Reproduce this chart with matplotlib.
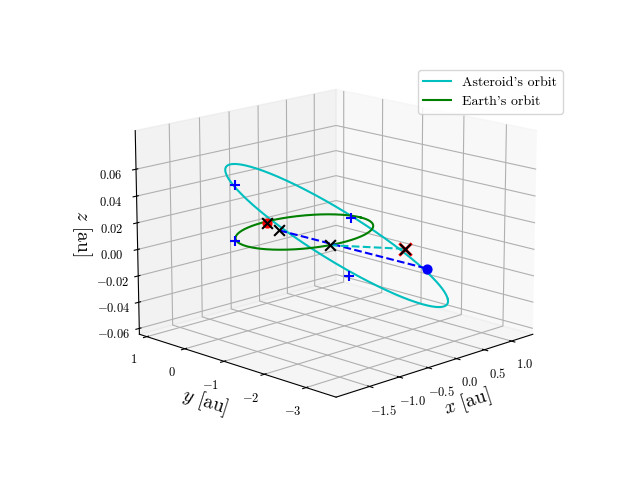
import numpy as np
import matplotlib
matplotlib.use("Agg")
import matplotlib.pyplot as plt

plt.rcParams.update({
    "font.family": "serif",
    "font.serif": ["cmr10"],
    "mathtext.fontset": "cm",
    "axes.formatter.use_mathtext": True,
})

# asteroid orbit: centre, semi-axis vectors (au)
ast_centre = [0.167, -0.61, 0.0]
ast_u = [1.20, -1.10, -0.055]
ast_v = [0.98, 1.41, 0.0]
earth_radius = 1.0

# marked positions (x, y, z) in au
plus_pts = [(-0.92, 0.44, 0.0), (0.90, 0.11, 0.0), (-0.82, 0.57, 0.04), (0.21, -0.82, -0.03)]
earth_pos = (-0.05, 0.9, 0.0)
ast_pos = (0.93, -1.76, -0.025)
cross_black = [(-0.05, 0.9, 0.0), (-0.19, 0.38, 0.0), (-0.24, -0.97, 0.0), (0.74, -1.47, -0.01)]
cross_red = (0.74, -1.47, -0.01)

th = np.linspace(0, 2 * np.pi, 400)
c, u, v = map(np.array, (ast_centre, ast_u, ast_v))
ast = c[:, None] + u[:, None] * np.cos(th) + v[:, None] * np.sin(th)

fig = plt.figure(figsize=(6.4, 4.8))
ax = fig.add_subplot(projection="3d")
ax.set_position([0.015, 0.0, 1.0, 1.0])
ax.plot(ast[0], ast[1], ast[2], color="c", label="Asteroid's orbit")
ax.plot(earth_radius * np.cos(th), earth_radius * np.sin(th), 0 * th,
        color="g", label="Earth's orbit")

ax.plot(*zip(cross_black[1], ast_pos), "b--")
ax.plot(*zip(cross_black[2], cross_red), "c--")
for p in plus_pts:
    ax.scatter(*p, color="b", marker="+", s=60)
ax.scatter(*earth_pos, color="r", s=40)
ax.scatter(*ast_pos, color="b", s=40)
ax.scatter(*cross_red, color="r", marker="x", s=80, linewidths=2)
for p in cross_black:
    ax.scatter(*p, color="k", marker="x", s=60)

ax.set_xlim(-2.05, 1.4)
ax.set_ylim(-3.7, 1.2)
ax.set_zlim(-0.0645, 0.0885)
ax.set_xticks([-1.5, -1.0, -0.5, 0.0, 0.5, 1.0])
ax.set_yticks([-3, -2, -1, 0, 1])
ax.set_zticks([-0.06, -0.04, -0.02, 0.0, 0.02, 0.04, 0.06])
ax.set_xlabel("$x$ [au]", fontsize=14)
ax.set_ylabel("$y$ [au]", fontsize=14)
ax.zaxis.set_rotate_label(False)
ax.set_zlabel("$z$ [au]", fontsize=14, rotation=-90)
ax.tick_params(labelsize=9)
ax.view_init(elev=15, azim=-135)
ax.set_box_aspect(None, zoom=0.91)
fig.legend(loc="upper right", bbox_to_anchor=(0.89, 0.868), fontsize=10)
fig.savefig("out.png", dpi=100)
